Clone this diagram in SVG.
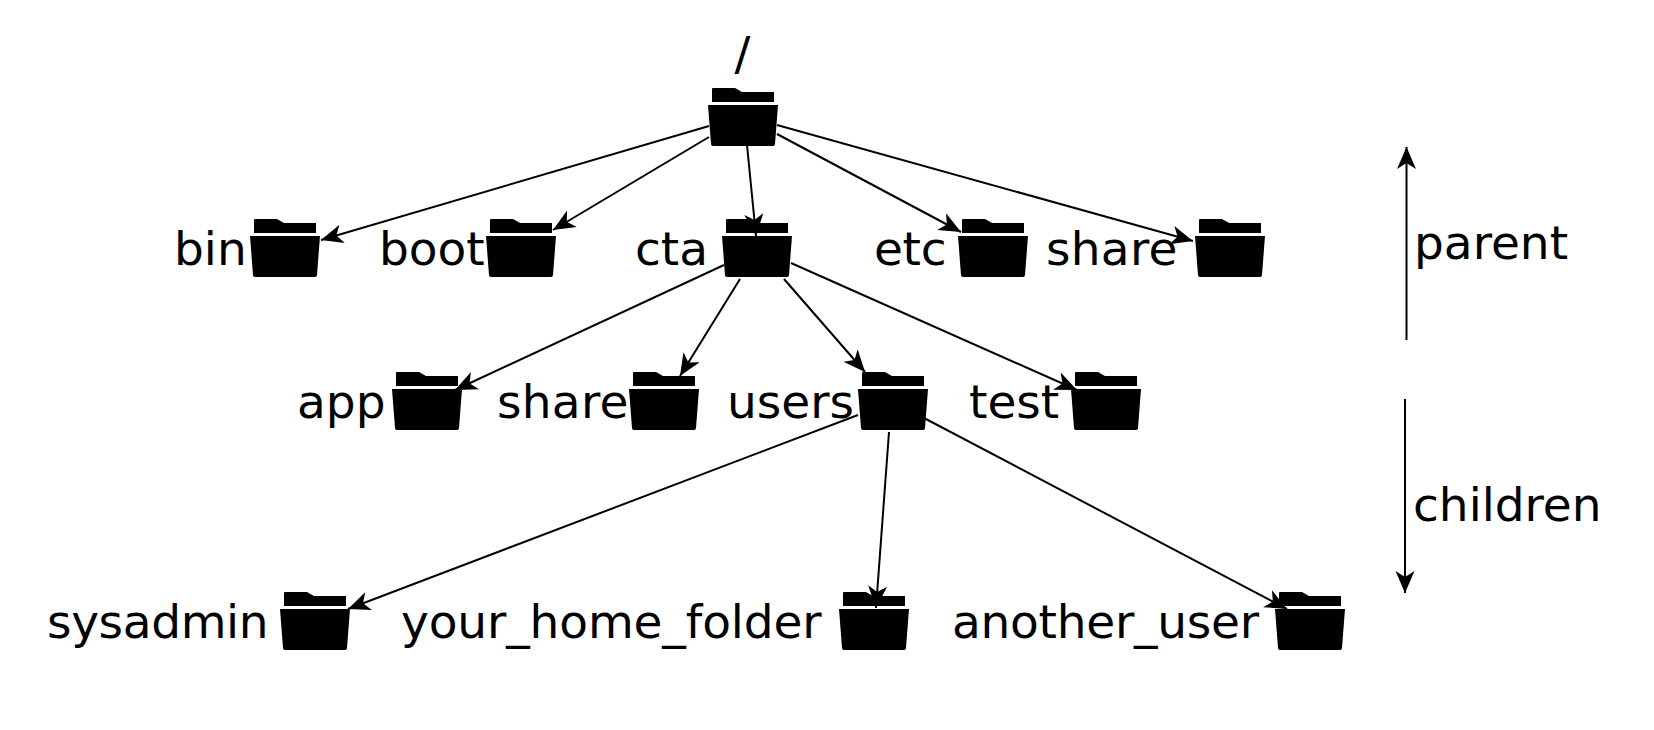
<svg xmlns="http://www.w3.org/2000/svg" width="1654" height="730" viewBox="0 0 1654 730">
<style>
text{font-family:"DejaVu Sans",sans-serif;font-size:47px;fill:#000}
.c{stroke:#000;stroke-width:2;fill:none;marker-end:url(#a)}
</style>
<defs>
<marker id="a" markerUnits="userSpaceOnUse" markerWidth="24" markerHeight="22" refX="22" refY="11" orient="auto"><path d="M0 1.5 L22 11 L0 20.5 L6 11 Z" fill="#000"/></marker>
<g id="f"><path d="M4 1 Q4 0 5 0 H27 L34 4 H66 V14 H4 Z" fill="#000"/><path d="M0 17 H70 L67 56 Q67 58 65 58 H5 Q3 58 3 56 Z" fill="#000"/></g>
</defs>
<rect width="1654" height="730" fill="#fff"/>
<g id="connectors">
<line class="c" x1="709" y1="126" x2="321" y2="240"/>
<line class="c" x1="709" y1="137" x2="553" y2="230"/>
<line class="c" x1="747" y1="145" x2="756" y2="236"/>
<line class="c" x1="777" y1="134" x2="961" y2="232"/>
<line class="c" x1="777" y1="125" x2="1193" y2="241"/>
<line class="c" x1="724" y1="265" x2="455" y2="390"/>
<line class="c" x1="740" y1="279" x2="680" y2="376"/>
<line class="c" x1="784" y1="279" x2="865" y2="372"/>
<line class="c" x1="791" y1="263" x2="1077" y2="390"/>
<line class="c" x1="858" y1="415" x2="348" y2="609"/>
<line class="c" x1="889" y1="432" x2="876" y2="608"/>
<line class="c" x1="924" y1="418" x2="1287" y2="609"/>
<line class="c" x1="1406.5" y1="340" x2="1406.5" y2="147"/>
<line class="c" x1="1405" y1="399" x2="1405" y2="593"/>
</g>
<g id="root"><text x="734.5" y="70">/</text><use href="#f" x="708" y="88"/></g>
<g id="bin"><text x="174" y="265">bin</text><use href="#f" x="250" y="219"/></g>
<g id="boot"><text x="379" y="265">boot</text><use href="#f" x="486" y="219"/></g>
<g id="cta"><text x="635" y="265">cta</text><use href="#f" x="722" y="219"/></g>
<g id="etc"><text x="874" y="265" letter-spacing="-0.3">etc</text><use href="#f" x="958" y="219"/></g>
<g id="share1"><text x="1046" y="265" letter-spacing="0.3">share</text><use href="#f" x="1195" y="219"/></g>
<g id="app"><text x="297" y="418">app</text><use href="#f" x="392" y="372"/></g>
<g id="share2"><text x="497" y="418" letter-spacing="0.3">share</text><use href="#f" x="629" y="372"/></g>
<g id="users"><text x="727" y="418">users</text><use href="#f" x="858" y="372"/></g>
<g id="test"><text x="969" y="418">test</text><use href="#f" x="1071" y="372"/></g>
<g id="sysadmin"><text x="47" y="638" letter-spacing="-0.35">sysadmin</text><use href="#f" x="280" y="592"/></g>
<g id="your_home_folder"><text x="401" y="638" letter-spacing="-0.12">your_home_folder</text><use href="#f" x="839" y="592"/></g>
<g id="another_user"><text x="952" y="638" letter-spacing="-0.25">another_user</text><use href="#f" x="1275" y="592"/></g>
<g id="parent"><text x="1414" y="259">parent</text></g>
<g id="children"><text x="1413" y="521">children</text></g>
</svg>
